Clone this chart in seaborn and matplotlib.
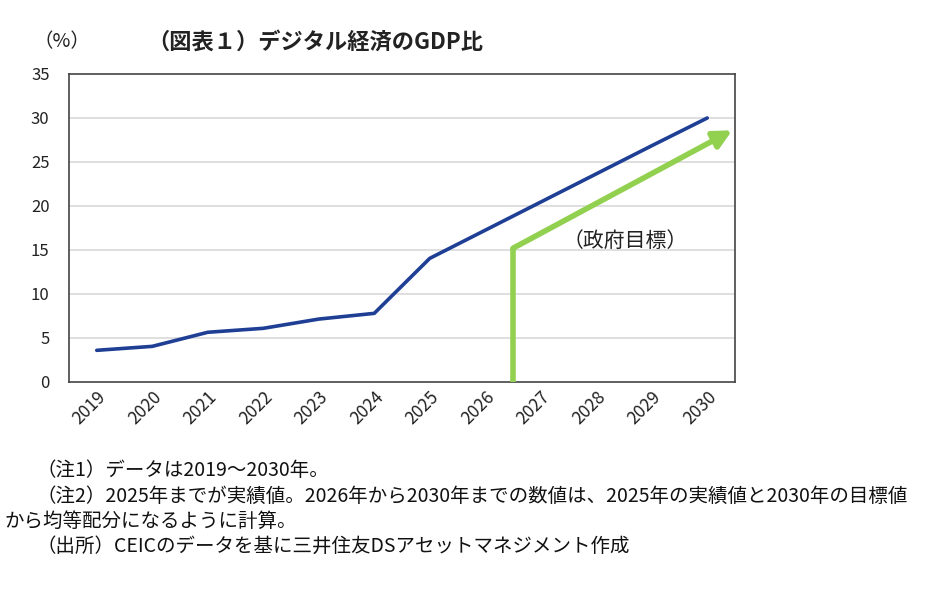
import matplotlib
matplotlib.use("Agg")
import matplotlib.pyplot as plt
import seaborn as sns
import pandas as pd

years = ["2019", "2020", "2021", "2022", "2023", "2024", "2025", "2026", "2027", "2028", "2029", "2030"]
ratio = [3.6, 4.05, 5.65, 6.1, 7.15, 7.8, 14.05, 17.25, 20.45, 23.65, 26.85, 30.0]
target_x = [7.5, 7.5, 11.45]
target_y = [0.0, 15.2, 28.6]
y_ticks = [0, 5, 10, 15, 20, 25, 30, 35]

title = "（図表１）デジタル経済のGDP比"
unit = "（%）"
target_label = "（政府目標）"
notes = [
    "（注1）データは2019～2030年。",
    "（注2）2025年までが実績値。2026年から2030年までの数値は、2025年の実績値と2030年の目標値",
    "から均等配分になるように計算。",
    "（出所）CEICのデータを基に三井住友DSアセットマネジメント作成",
]

sns.set_theme(style="white")
plt.rcParams["font.family"] = ["Noto Sans CJK JP", "DejaVu Sans"]

df = pd.DataFrame({"idx": range(len(years)), "ratio": ratio})

fig = plt.figure(figsize=(9.45, 5.94), dpi=100)
ax = fig.add_axes([69 / 945, 1 - 382 / 594, 666 / 945, 308 / 594])

for v in y_ticks[1:-1]:
    ax.axhline(v, color="#d9d9d9", lw=1.2, zorder=0)

sns.lineplot(data=df, x="idx", y="ratio", ax=ax, color="#1f3f95", lw=2.6, zorder=3)

ax.plot(target_x[:2], target_y[:2], color="#92d050", lw=4, solid_capstyle="butt", zorder=4)
ax.annotate("", xy=(target_x[2], target_y[2]), xytext=(target_x[1], target_y[1]),
            arrowprops=dict(arrowstyle="-|>,head_length=0.9,head_width=0.45", color="#92d050",
                            lw=4, shrinkA=0, shrinkB=0), zorder=4)
ax.text(9.52, 16.0, target_label, fontsize=15, ha="center", va="center", color="#222222")

ax.set_xlim(-0.5, len(years) - 0.5)
ax.set_ylim(0, 35)
ax.set_yticks(y_ticks)
ax.set_yticklabels([str(v) for v in y_ticks], fontsize=12, color="#222222")
ax.set_xticks(range(len(years)))
ax.set_xticklabels(years, rotation=45, ha="right", rotation_mode="anchor", fontsize=12.5, color="#222222")
ax.set_xticks([i + 0.5 for i in range(len(years) - 1)], minor=True)
ax.tick_params(axis="x", which="major", length=0, pad=4)
ax.tick_params(axis="x", which="minor", direction="in", length=5, width=1, color="#444444")
ax.tick_params(axis="y", which="major", direction="in", length=5, width=1, color="#444444", pad=14)
ax.set_xlabel("")
ax.set_ylabel("")
for s in ax.spines.values():
    s.set_color("#444444")
    s.set_linewidth(1.2)

fig.text(62 / 945, 1 - 42 / 594, unit, fontsize=14, ha="center", va="center", color="#222222")
fig.text(315 / 945, 1 - 42 / 594, title, fontsize=16, fontweight="bold", ha="center", va="center", color="#222222")

note_pos = [(36, 471), (36, 496), (4, 521), (36, 546)]
for (x, y), t in zip(note_pos, notes):
    fig.text(x / 945, 1 - y / 594, t, fontsize=14, ha="left", va="center", color="#111111")

fig.savefig("out.png", dpi=100)
